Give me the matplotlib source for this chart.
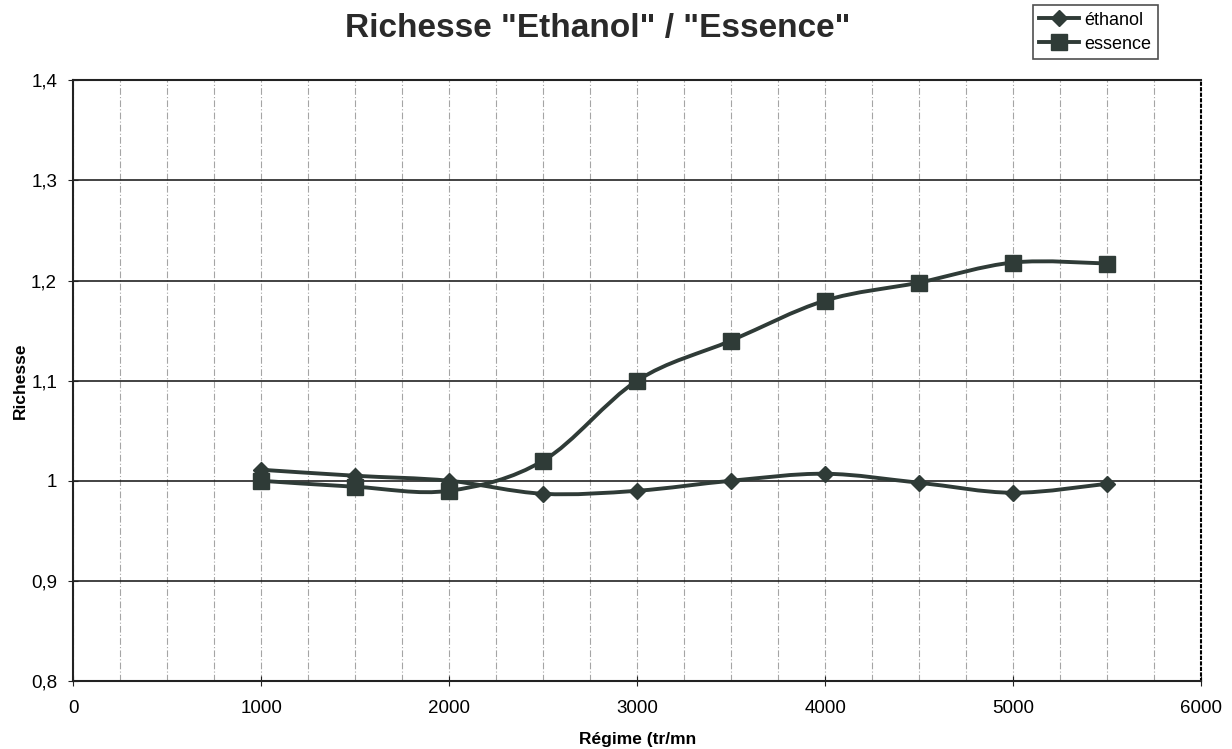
import matplotlib.pyplot as plt
from matplotlib.path import Path
from matplotlib.patches import PathPatch
from matplotlib.lines import Line2D
from matplotlib.ticker import FuncFormatter, MultipleLocator
import numpy as np

plt.rcParams['font.family'] = ['Liberation Sans', 'DejaVu Sans']

regime = [1000, 1500, 2000, 2500, 3000, 3500, 4000, 4500, 5000, 5500]
ethanol = [1.011, 1.005, 1.000, 0.987, 0.990, 1.000, 1.007, 0.998, 0.988, 0.997]
essence = [1.000, 0.994, 0.990, 1.020, 1.100, 1.140, 1.180, 1.198, 1.218, 1.217]

col = '#2f3b37'


def smooth_path(x, y):
    # Excel-style smoothed line: Catmull-Rom segments as cubic Beziers
    p = np.column_stack([x, y]).astype(float)
    verts = [p[0]]
    codes = [Path.MOVETO]
    n = len(p)
    for i in range(n - 1):
        p0 = p[i - 1] if i > 0 else p[i]
        p3 = p[i + 2] if i + 2 < n else p[i + 1]
        c1 = p[i] + (p[i + 1] - p0) / 6
        c2 = p[i + 1] - (p3 - p[i]) / 6
        verts += [c1, c2, p[i + 1]]
        codes += [Path.CURVE4] * 3
    return Path(verts, codes)


fig = plt.figure(figsize=(12.32, 7.49), dpi=100)
ax = fig.add_axes([0.0593, 0.0908, 0.9157, 0.802])

ax.add_patch(PathPatch(smooth_path(regime, ethanol), fill=False, ec=col, lw=2.8, zorder=3))
ax.add_patch(PathPatch(smooth_path(regime, essence), fill=False, ec=col, lw=2.8, zorder=3))
ax.plot(regime, ethanol, ls='none', marker='D', ms=8, color=col, zorder=4)
ax.plot(regime, essence, ls='none', marker='s', ms=11, color=col, zorder=4)

ax.set_xlim(0, 6000)
ax.set_ylim(0.8, 1.4)
ax.xaxis.set_major_locator(MultipleLocator(1000))
ax.xaxis.set_minor_locator(MultipleLocator(250))
ax.yaxis.set_major_locator(MultipleLocator(0.1))
ax.yaxis.set_major_formatter(FuncFormatter(lambda v, p: ('%g' % round(v, 1)).replace('.', ',')))
ax.grid(which='minor', axis='x', color='#a5a5a5', lw=0.8, ls=(0, (6, 2, 1, 2)))
ax.grid(which='major', axis='x', color='#a5a5a5', lw=0.8, ls=(0, (6, 2, 1, 2)))
ax.grid(which='major', axis='y', color='#222222', lw=1.2)
ax.tick_params(axis='x', which='minor', length=0)
ax.tick_params(axis='both', which='major', direction='inout', length=7, labelsize=13.5, color='#222222')
ax.tick_params(axis='x', pad=10)
ax.tick_params(axis='y', pad=8)
for s in ['left', 'bottom', 'top']:
    ax.spines[s].set_linewidth(1.5)
    ax.spines[s].set_color('#222222')
ax.spines['right'].set_linestyle(':')
ax.spines['right'].set_linewidth(1.5)

ax.set_xlabel('Régime (tr/mn', fontsize=12.5, fontweight='bold')
ax.xaxis.set_label_coords(0.5, -0.085)
ax.set_ylabel('Richesse', fontsize=12.5, fontweight='bold', labelpad=2)
fig.text(0.485, 0.962, 'Richesse "Ethanol" / "Essence"', fontsize=24, fontweight='bold',
         ha='center', va='center', color='#2a2a2a')

handles = [Line2D([], [], color=col, lw=2.8, marker='D', ms=8),
           Line2D([], [], color=col, lw=2.8, marker='s', ms=11)]
leg = fig.legend(handles, ['éthanol', 'essence'], loc='upper left', bbox_to_anchor=(0.8385, 0.993),
                 borderaxespad=0, fontsize=13, frameon=True, fancybox=False, edgecolor='#222222',
                 handlelength=2.2, handletextpad=0.3, borderpad=0.35, labelspacing=0.4)
leg.get_frame().set_linewidth(1.2)

fig.savefig('out.png', dpi=100)
